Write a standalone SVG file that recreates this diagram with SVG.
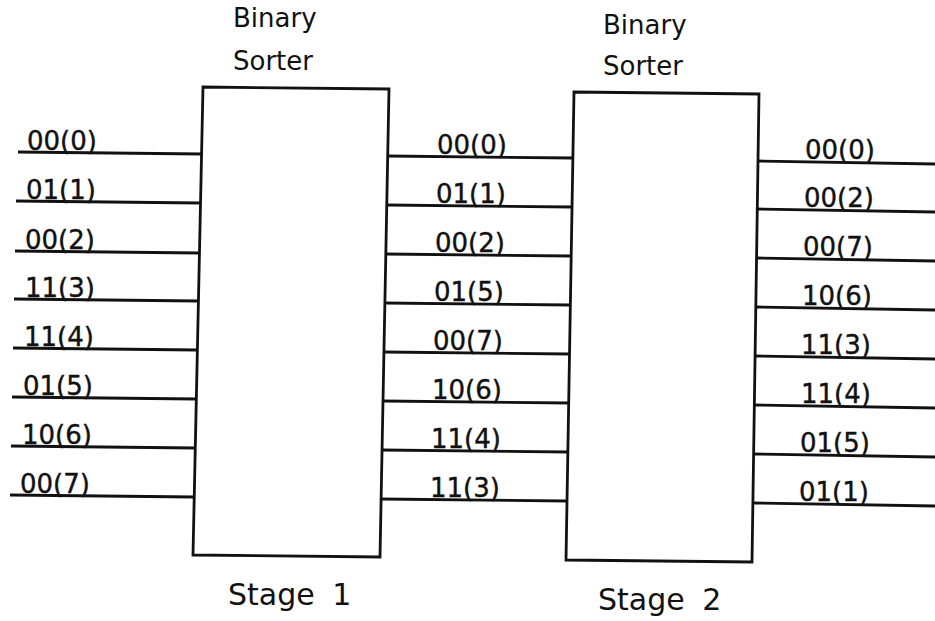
<svg xmlns="http://www.w3.org/2000/svg" width="935" height="621" viewBox="0 0 935 621">
  <style>
    .box { fill: #fff; stroke: #111; stroke-width: 2.8; stroke-linejoin: miter; }
    .wire { stroke: #111; stroke-width: 2.8; fill: none; }
    .title { font-family: "DejaVu Sans", "Noto Sans", sans-serif; font-size: 26px; fill: #111; }
    .stage { font-family: "DejaVu Sans", "Noto Sans", sans-serif; font-size: 30px; fill: #111; word-spacing: 8px; }
    .lbl { font-family: "DejaVu Sans", "Noto Sans", sans-serif; font-size: 26px; fill: #111; stroke: #111; stroke-width: 0.4; }
  </style>
  <rect width="935" height="621" fill="#fff"/>

  <!-- Stage 1 sorter -->
  <g id="sorter1">
    <text class="title" x="233" y="27">Binary</text>
    <text class="title" x="233" y="70">Sorter</text>
    <path class="box" d="M203,87 L389,89 L380,557 L193,555 Z"/>
    <text class="stage" x="228" y="605">Stage 1</text>
  </g>

  <!-- Stage 2 sorter -->
  <g id="sorter2">
    <text class="title" x="603" y="34">Binary</text>
    <text class="title" x="603" y="75">Sorter</text>
    <path class="box" d="M574,92 L759,94 L752,562 L566,560 Z"/>
    <text class="stage" x="598" y="610">Stage 2</text>
  </g>

  <!-- wires between inputs, sorters and outputs -->
  <g id="connectors" class="wire">
    <!-- inputs to stage 1 -->
    <line x1="18" y1="152" x2="201.6" y2="154"/>
    <line x1="16" y1="201" x2="200.5" y2="203"/>
    <line x1="15" y1="251" x2="199.5" y2="253"/>
    <line x1="14" y1="299" x2="198.4" y2="301"/>
    <line x1="13" y1="348" x2="197.4" y2="350"/>
    <line x1="12" y1="397" x2="196.3" y2="399"/>
    <line x1="11" y1="446" x2="195.3" y2="448"/>
    <line x1="10" y1="495" x2="194.2" y2="497"/>
    <!-- stage 1 to stage 2 -->
    <line x1="387.7" y1="156" x2="572.9" y2="158"/>
    <line x1="386.8" y1="205" x2="572" y2="207"/>
    <line x1="385.8" y1="254" x2="571.2" y2="256"/>
    <line x1="384.9" y1="303" x2="570.3" y2="305"/>
    <line x1="383.9" y1="352" x2="569.5" y2="354"/>
    <line x1="382.9" y1="401" x2="568.7" y2="403"/>
    <line x1="382" y1="450" x2="567.8" y2="452"/>
    <line x1="381" y1="499" x2="567" y2="501"/>
    <!-- stage 2 outputs -->
    <line x1="758" y1="161" x2="935" y2="164"/>
    <line x1="757.3" y1="209" x2="935" y2="212"/>
    <line x1="756.5" y1="258" x2="935" y2="261"/>
    <line x1="755.8" y1="307" x2="935" y2="310"/>
    <line x1="755" y1="356" x2="935" y2="359"/>
    <line x1="754.3" y1="405" x2="935" y2="408"/>
    <line x1="753.5" y1="454" x2="935" y2="457"/>
    <line x1="752.8" y1="503" x2="935" y2="506"/>
  </g>

  <!-- wire labels -->
  <g id="labels">
    <text class="lbl" x="27" y="150">00(0)</text>
    <text class="lbl" x="26" y="199">01(1)</text>
    <text class="lbl" x="25" y="249">00(2)</text>
    <text class="lbl" x="25" y="297">11(3)</text>
    <text class="lbl" x="24" y="346">11(4)</text>
    <text class="lbl" x="23" y="395">01(5)</text>
    <text class="lbl" x="22" y="444">10(6)</text>
    <text class="lbl" x="20" y="493">00(7)</text>

    <text class="lbl" x="437" y="154">00(0)</text>
    <text class="lbl" x="436" y="203">01(1)</text>
    <text class="lbl" x="435" y="252">00(2)</text>
    <text class="lbl" x="434" y="301">01(5)</text>
    <text class="lbl" x="433" y="350">00(7)</text>
    <text class="lbl" x="432" y="399">10(6)</text>
    <text class="lbl" x="431" y="448">11(4)</text>
    <text class="lbl" x="430" y="497">11(3)</text>

    <text class="lbl" x="805" y="159">00(0)</text>
    <text class="lbl" x="804" y="207">00(2)</text>
    <text class="lbl" x="803" y="256">00(7)</text>
    <text class="lbl" x="802" y="305">10(6)</text>
    <text class="lbl" x="801" y="354">11(3)</text>
    <text class="lbl" x="801" y="403">11(4)</text>
    <text class="lbl" x="800" y="452">01(5)</text>
    <text class="lbl" x="799" y="501">01(1)</text>
  </g>
</svg>
